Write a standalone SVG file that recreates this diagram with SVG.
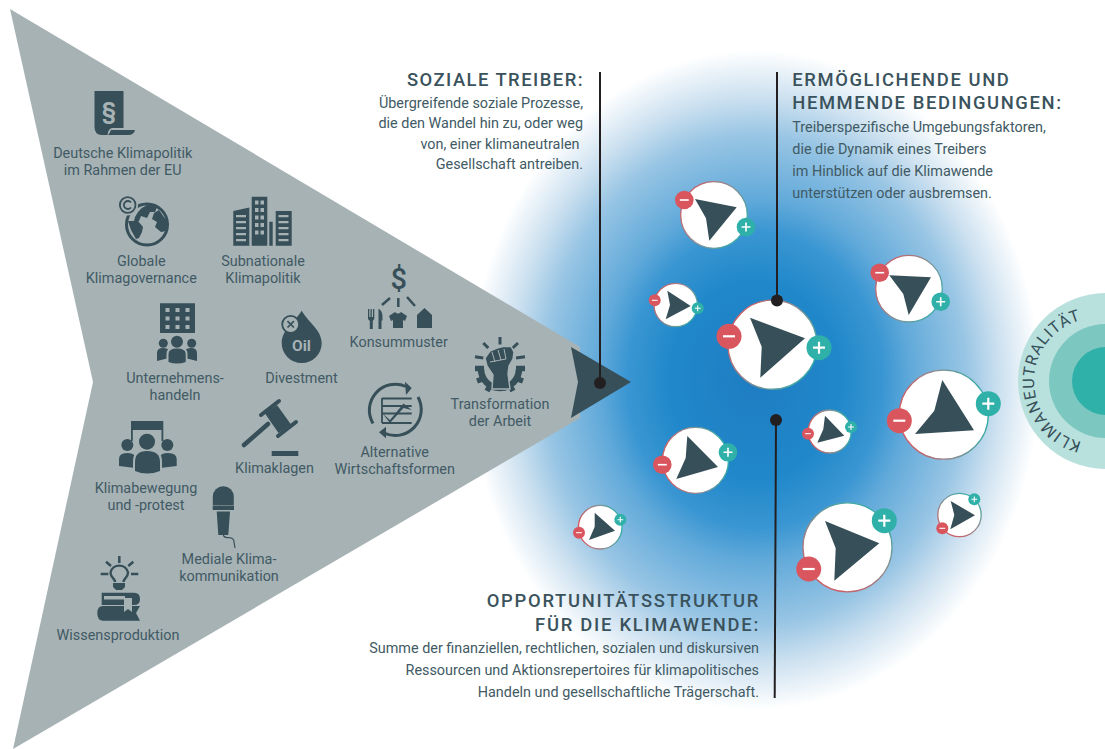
<svg xmlns="http://www.w3.org/2000/svg" xmlns:xlink="http://www.w3.org/1999/xlink" width="1105" height="749" viewBox="0 0 1105 749">
<style>
text{font-family:Roboto,"Noto Sans","Liberation Sans",sans-serif;fill:#415a64}
.l{font-size:14.4px;text-anchor:middle}
.h{font-size:18.4px;font-weight:500;letter-spacing:1.6px;fill:#3a525c}
.b{font-size:14.4px}
.e{text-anchor:end}
.d{fill:#364f58}
.g{fill:#a7b2b5}
.ds{stroke:#364f58;fill:none}
.gs{stroke:#a7b2b5;fill:none}
.disc{fill:#fff;stroke-width:1.3}
.conn{stroke:#231f20;stroke-width:2;fill:none}
.dot{fill:#231f20}
.m{fill:#d9565f}
.p{fill:#2fb0a8}
.sym{stroke:#fff;stroke-width:2.2;fill:none}
</style>
<defs>
<radialGradient id="glow" cx="755" cy="380" r="1" gradientUnits="userSpaceOnUse" gradientTransform="translate(755 380) scale(285 330) translate(-755 -380)">
<stop offset="0" stop-color="#1f7dc2"/>
<stop offset=".3" stop-color="#2088ca"/>
<stop offset=".45" stop-color="#3a96d2"/>
<stop offset=".55" stop-color="#62aada"/>
<stop offset=".74" stop-color="#98c5e4"/>
<stop offset=".86" stop-color="#cde1f0"/>
<stop offset="1" stop-color="#fff"/>
</radialGradient>
<linearGradient id="rim"><stop offset="0" stop-color="#d9565f"/><stop offset=".5" stop-color="#8d8d92"/><stop offset="1" stop-color="#2fb0a8"/></linearGradient>
<linearGradient id="r1" href="#rim" x1="0" y1=".2" x2="1" y2=".8"/>
<linearGradient id="r2" href="#rim" x1="0" y1=".6" x2="1" y2=".4"/>
<linearGradient id="r3" href="#rim" x1=".2" y1="1" x2=".8" y2="0"/>
<g id="minus"><circle class="m" r="12.5"/><path class="sym" d="M-6 0H6"/></g>
<g id="plus"><circle class="p" r="12.5"/><path class="sym" d="M-6 0H6M0-6V6"/></g>
<path id="kt" d="M1097 444A63 63 0 0 1 1097 318"/>
</defs>

<ellipse cx="755" cy="380" rx="285" ry="330" fill="url(#glow)"/>

<g id="klimaneutralitaet">
<circle cx="1106" cy="381" r="88" fill="#b8e0dd"/>
<circle cx="1106" cy="381" r="57" fill="#7dc7c1"/>
<circle cx="1106" cy="381" r="34" fill="#2fb0a8"/>
<text font-size="16" letter-spacing="1.1" style="fill:#364f58"><textPath href="#kt" startOffset="50%" text-anchor="middle">KLIMANEUTRALITÄT</textPath></text>
</g>

<g id="soziale-treiber">
<path class="g" d="M10 9L580 347V418L13 749L93 382Z"/>
<path class="d" d="M571 347L631 382L571 418L578 382Z"/>
</g>

<g id="node-eu">
<path class="d" d="M94.500 91H123.500V128L112 128Q108 129 107.500 135H101Q94.500 134 94.500 127Z"/>
<path class="d" d="M111 130H135Q134 135 128 135H108Q110 133 111 130Z"/>
<text x="109" y="119" text-anchor="middle" font-size="23" font-weight="700" style="fill:#a7b2b5">§</text>
<text class="l"><tspan x="122.700" y="158">Deutsche Klimapolitik</tspan><tspan x="122.700" y="175">im Rahmen der EU</tspan></text>
</g>

<g id="node-global">
<circle class="ds" cx="147" cy="224.500" r="20.500" stroke-width="3"/>
<path class="d" d="M135 217Q141 205 152 204L157 207L155 212L150 212L147 218L141 216L139 221L134 221ZM154 213L159 210L166 220L166 231L161 232L155 227L157 222L152 219ZM128 221L138 221L143 227L142 232L139 238L136 239L131 230Z"/>
<circle class="g" cx="127.700" cy="205" r="10.500"/>
<circle class="ds" cx="127.700" cy="205" r="7.800" stroke-width="1.800"/>
<path class="ds" stroke-width="1.800" d="M131 202.500A4 4 0 1 0 131 207.500"/>
<text class="l"><tspan x="141.300" y="266">Globale</tspan><tspan x="141.300" y="283">Klimagovernance</tspan></text>
</g>

<g id="node-subnational">
<path class="d" d="M233.300 211L249.300 207.500V245.700H233.300ZM251.700 196.700H267.300V245.700H251.700ZM269.300 221.700H272.700V245.700H269.300ZM275.700 211H291.700V245.700H275.700Z"/>
<path class="g" d="M255 200.500h3.500v4h-3.500zM260.500 200.500h3.500v4h-3.500zM255 208h3.500v4h-3.500zM260.500 208h3.500v4h-3.500zM255 215.500h3.500v4h-3.500zM260.500 215.500h3.500v4h-3.500zM255 223h3.500v4h-3.500zM260.500 223h3.500v4h-3.500zM255 230.500h3.500v4h-3.500zM260.500 230.500h3.500v4h-3.500zM236 215h10v2.200h-10zM236 221h10v2.200h-10zM236 227h10v2.200h-10zM236 233h10v2.200h-10zM236 239h10v2.200h-10zM278.500 215h10v2.200h-10zM278.500 221h10v2.200h-10zM278.500 227h10v2.200h-10zM278.500 233h10v2.200h-10zM278.500 239h10v2.200h-10z"/>
<text class="l"><tspan x="263" y="266">Subnationale</tspan><tspan x="263" y="283">Klimapolitik</tspan></text>
</g>

<g id="node-konsum">
<text x="398.700" y="289" text-anchor="middle" font-size="29" font-weight="500" style="fill:#364f58">$</text>
<path class="ds" stroke-width="2.500" d="M382 305L390 298M398.300 298V307M407 297L415 306"/>
<path class="d" d="M368 309h1.300v8h1.200v-8h1.300v8h1.200v-8h1.300v10l-1.500 2v8h-3v-8l-1.800-2ZM379 309q3.500 2 3.500 8v3l-1 1v8h-3v-20Z"/>
<path class="d" d="M389 316L395 312Q398 315 401 312L407 316L405 321L403 320V328H393V320L391 321Z"/>
<path class="d" d="M424.500 308L432 315V328H417V315Z"/>
<text class="l" x="398.700" y="347">Konsummuster</text>
</g>

<g id="node-unternehmen">
<path class="d" d="M160 303.300H195V333H160Z"/>
<path class="g" d="M165.500 308h4v4h-4zM175.500 308h4v4h-4zM185.500 308h4v4h-4zM165.500 316.500h4v4h-4zM175.500 316.500h4v4h-4zM185.500 316.500h4v4h-4zM165.500 325h4v4h-4zM175.500 325h4v4h-4zM185.500 325h4v4h-4z"/>
<g class="g"><circle cx="163.300" cy="343.300" r="7"/><circle cx="191.700" cy="343.300" r="7"/><circle cx="177" cy="341.700" r="8.500"/></g>
<path class="d" d="M157 361V353Q157 348 163 348Q168 348 169 351L169 358ZM197 361V353Q197 348 191 348Q186 348 185 351L185 358Z"/>
<path class="g" d="M166.500 364V354Q166.500 346.500 177 346.500Q187.500 346.500 187.500 354V364Z"/>
<path class="d" d="M168.500 362V354Q168.500 348.500 177 348.500Q185.700 348.500 185.700 354V362Q177 365 168.500 362Z"/>
<circle class="d" cx="163.300" cy="343.300" r="4.500"/><circle class="d" cx="191.700" cy="343.300" r="4.500"/><circle class="d" cx="177" cy="341.700" r="6"/>
<text class="l"><tspan x="175" y="383">Unternehmens-</tspan><tspan x="175" y="400">handeln</tspan></text>
</g>

<g id="node-divestment">
<path class="d" d="M301.700 310.700C308 322 321.700 330 321.700 343A20 20 0 0 1 281.700 343C281.700 330 295 322 301.700 310.700Z"/>
<circle class="g" cx="290.700" cy="324.300" r="8.500" stroke="#364f58" stroke-width="1.800"/>
<path class="ds" stroke-width="1.700" d="M287.500 321.100L293.900 327.500M293.900 321.100L287.500 327.500"/>
<text x="301.500" y="351" text-anchor="middle" font-size="15.500" font-weight="700" style="fill:#a7b2b5">Oil</text>
<text class="l" x="301.500" y="383">Divestment</text>
</g>

<g id="node-arbeit">
<path class="ds" stroke-width="3" d="M500 337V344.500M483.300 343L488.300 348M518 343L512.700 348M475 356.700L483.300 358M525 356.700L516 358"/>
<path class="ds" stroke-width="6.500" d="M481 369A19 19 0 0 0 519 369"/>
<path class="ds" stroke-width="5.500" d="M475 368.500H484M477 381L484 378.500M487 391L491 384M513 391L509 384M523 381L516 378.500M525 368.500H516"/>
<path class="d" stroke="#a7b2b5" stroke-width="1.400" d="M485 358L490 351L497 348L503 346.500L511 346.500L514 352L513 359L509 366L508 374L510 389H492L493 375L487 366Z"/>
<path class="gs" stroke-width="1" d="M492 352L495 362M498 350L501 360M504 349L506 359M490 362L506 359"/>
<text class="l"><tspan x="500" y="409">Transformation</tspan><tspan x="500" y="425.700">der Arbeit</tspan></text>
</g>

<g id="node-alternativ">
<path class="ds" stroke-width="3" d="M373 423.500A26 26 0 0 1 406 386.500M418 397A26 26 0 0 1 384 433"/>
<path class="d" d="M405 381.700L411.700 388L406 395ZM386 426.700L379 432.300L386 438.300Z"/>
<path class="ds" stroke-width="1.800" d="M382 398V423M382 398.500H411.700M382 406H411.700M382 413.500H411.700M382 423H411.700"/>
<path class="d" d="M382.500 413.500L390 420L403.500 403.500L411.700 410L403.500 408L390 423Z"/>
<text class="l"><tspan x="394.700" y="457.300">Alternative</tspan><tspan x="394.700" y="474">Wirtschaftsformen</tspan></text>
</g>

<g id="node-klimaklagen">
<path class="ds" stroke-width="4.500" stroke-linecap="round" d="M244 445L268 424"/>
<path class="d" d="M265 413.500L277 405L291 424.500L278.500 433Z"/>
<path class="ds" stroke-width="4" stroke-linecap="round" d="M261 415L279 401M278 436L296 422"/>
<path class="d" d="M271.700 451H298.300V456H271.700Z"/>
<text class="l" x="274.500" y="473.300">Klimaklagen</text>
</g>

<g id="node-klimabewegung">
<path class="d" d="M131 421H163.300V441H161.500V430H132.800V441H131Z"/>
<circle class="d" cx="127.300" cy="445" r="6"/><circle class="d" cx="167.300" cy="445" r="6"/>
<path class="d" d="M119 466V459Q119 453 127 453Q133 453 135 456V468ZM176.700 466V459Q176.700 453 168 453Q162 453 160 456V468Z"/>
<circle class="g" cx="147" cy="441.700" r="9.500"/>
<path class="g" d="M133 476V462Q133 448 147 448Q162 448 162 462V476Z"/>
<circle class="d" cx="147" cy="441.700" r="8"/>
<path class="d" d="M135 471V462Q135 451 147 451Q160 451 160 462V471Q147 476 135 471Z"/>
<text class="l"><tspan x="146" y="493">Klimabewegung</tspan><tspan x="146" y="510">und -protest</tspan></text>
</g>

<g id="node-medien">
<path class="d" d="M212.800 496.700A10.500 10.500 0 0 1 233.800 496.700L233.800 505H212.800Z"/>
<path class="d" d="M212.700 505.500H234V510H212.700ZM216.700 511.500H230L228.300 535H218.300Z"/>
<path class="ds" stroke-width="1.200" d="M223.300 535Q224 538 229 537.500Q234 538 234 542L235 548"/>
<text class="l"><tspan x="229" y="564">Mediale Klima-</tspan><tspan x="229" y="581">kommunikation</tspan></text>
</g>

<g id="node-wissen">
<path class="ds" stroke-width="2.500" d="M119.300 556V563M106 561.700L111 566M133.300 561.700L128.300 566M100.700 574H108.300M131 574H138.300"/>
<path class="ds" stroke-width="2.400" d="M115 582C115 578 110.500 578 110.500 572.500A9 9 0 0 1 128 572.500C128 578 123.500 578 123.500 582"/>
<path class="d" d="M113 583H125V587L122 590H116L113 587Z"/>
<path class="d" d="M101.700 592.700H134Q140 592.700 140 599Q140 605 134 605H101.700ZM103 606H140L136 613L140 620.700H103Q97.300 620.700 97.300 613Q97.300 606 103 606Z"/>
<path class="g" d="M104 596H125V599.500H104Z"/>
<path class="g" d="M124 598H132V612L128 609L124 612Z"/>
<text class="l" x="118" y="640">Wissensproduktion</text>
</g>

<g id="driver-1"><circle class="disc" stroke="url(#r1)" cx="714" cy="215" r="33.300"/><path class="d" d="M695 199L736.700 207.300L709.300 240.700L706 218.300Z"/><use href="#minus" transform="translate(684.300 200) scale(.744)"/><use href="#plus" transform="translate(746 227) scale(.744)"/></g>
<g id="driver-2"><circle class="disc" stroke="url(#r1)" cx="675.700" cy="305" r="21.700"/><path class="d" d="M667.300 290.700L690.700 306L665.700 319.300L670 305Z"/><use href="#minus" transform="translate(654.700 300.300) scale(.48)"/><use href="#plus" transform="translate(697.700 308.300) scale(.48)"/></g>
<g id="driver-3"><circle class="disc" stroke="url(#r1)" cx="772.500" cy="344.700" r="44.500"/><path class="d" d="M750 317.700L805 338.300L760.300 377.700L761.700 346.700Z"/><use href="#minus" transform="translate(729 336.300)"/><use href="#plus" transform="translate(819 347.700)"/></g>
<g id="driver-4"><circle class="disc" stroke="url(#r1)" cx="909" cy="288.700" r="33.300"/><path class="d" d="M889.300 275.300L931 277.300L908.700 315L903.300 294Z"/><use href="#minus" transform="translate(879.700 272.700) scale(.744)"/><use href="#plus" transform="translate(940.700 301.700) scale(.744)"/></g>
<g id="driver-5"><circle class="disc" stroke="url(#r2)" cx="943.800" cy="414.700" r="44.500"/><path class="d" d="M942.300 380L974 430.300L915 434L934.300 410.700Z"/><use href="#minus" transform="translate(899.300 420.700)"/><use href="#plus" transform="translate(988.300 403.700)"/></g>
<g id="driver-6"><circle class="disc" stroke="url(#r2)" cx="829.700" cy="431.500" r="21.500"/><path class="d" d="M825 415.700L844.300 435.700L817.300 442.700L823.300 429.300Z"/><use href="#minus" transform="translate(808 433.700) scale(.48)"/><use href="#plus" transform="translate(851 427) scale(.48)"/></g>
<g id="driver-7"><circle class="disc" stroke="url(#r2)" cx="695.500" cy="460.300" r="33"/><path class="d" d="M687.300 436L718 467L676.300 479L685.700 458Z"/><use href="#minus" transform="translate(662.300 464.700) scale(.744)"/><use href="#plus" transform="translate(728 452.300) scale(.744)"/></g>
<g id="driver-8"><circle class="disc" stroke="url(#r2)" cx="600.200" cy="527.200" r="21.800"/><path class="d" d="M594.700 512.700L615 530.700L589 540L594.700 526.700Z"/><use href="#minus" transform="translate(579 532.700) scale(.48)"/><use href="#plus" transform="translate(620.300 519.700) scale(.48)"/></g>
<g id="driver-9"><circle class="disc" stroke="url(#r3)" cx="847.500" cy="547.300" r="44.500"/><path class="d" d="M825 521L879.300 543.300L834.300 580.700L835.700 548.300Z"/><use href="#minus" transform="translate(808.700 569)"/><use href="#plus" transform="translate(884.300 520.700)"/></g>
<g id="driver-10"><circle class="disc" stroke="url(#r3)" cx="959.500" cy="515" r="21.700"/><path class="d" d="M950.700 501L975 515.300L950.300 529.300L954.300 515Z"/><use href="#minus" transform="translate(942.300 528.300) scale(.48)"/><use href="#plus" transform="translate(974.300 499.300) scale(.48)"/></g>

<g id="connectors">
<path class="conn" d="M600 72V383"/><circle class="dot" cx="600" cy="383" r="6"/>
<path class="conn" d="M777 72V300"/><circle class="dot" cx="777" cy="300.500" r="6"/>
<path class="conn" d="M776 420L774.700 698"/><circle class="dot" cx="776" cy="420" r="6"/>
</g>

<g id="label-treiber">
<text class="h e" x="584" y="86" style="letter-spacing:1.47px">SOZIALE TREIBER:</text>
<text class="b e" x="583" y="107.700">Übergreifende soziale Prozesse,</text>
<text class="b e" x="583" y="128.300">die den Wandel hin zu, oder weg</text>
<text class="b e" x="579.500" y="149">von, einer klimaneutralen</text>
<text class="b e" x="583" y="169.300">Gesellschaft antreiben.</text>
</g>
<g id="label-bedingungen">
<text class="h" x="792.300" y="86">ERMÖGLICHENDE UND</text>
<text class="h" x="792.300" y="109.300">HEMMENDE BEDINGUNGEN:</text>
<text class="b" x="792.300" y="131.700">Treiberspezifische Umgebungsfaktoren,</text>
<text class="b" x="792.300" y="154.300">die die Dynamik eines Treibers</text>
<text class="b" x="792.300" y="176">im Hinblick auf die Klimawende</text>
<text class="b" x="792.300" y="198.300">unterstützen oder ausbremsen.</text>
</g>
<g id="label-opportunitaet">
<text class="h e" x="760" y="607.300" style="letter-spacing:1.73px">OPPORTUNITÄTSSTRUKTUR</text>
<text class="h e" x="760" y="630.700" style="letter-spacing:1.73px">FÜR DIE KLIMAWENDE:</text>
<text class="b e" x="759" y="653.300">Summe der finanziellen, rechtlichen, sozialen und diskursiven</text>
<text class="b e" x="759" y="675">Ressourcen und Aktionsrepertoires für klimapolitisches</text>
<text class="b e" x="759" y="697.300">Handeln und gesellschaftliche Trägerschaft.</text>
</g>
</svg>
